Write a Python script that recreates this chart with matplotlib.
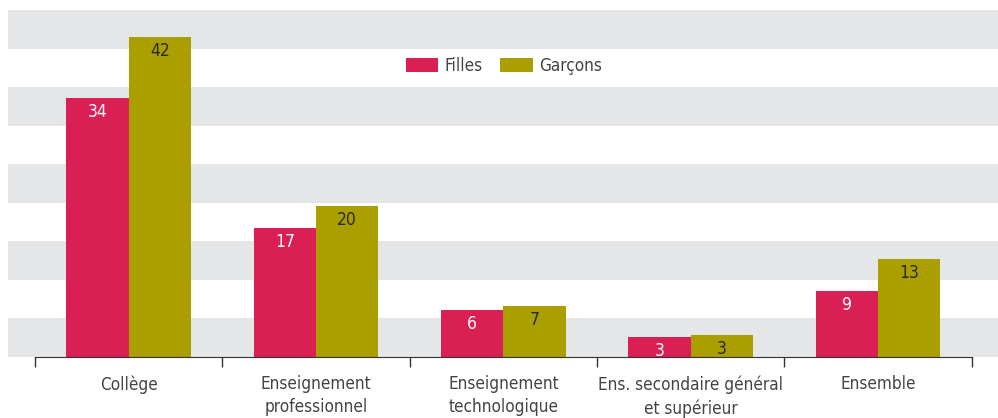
import matplotlib
matplotlib.use("Agg")
import matplotlib.pyplot as plt
import numpy as np

categories = ["Collège", "Enseignement\nprofessionnel", "Enseignement\ntechnologique",
              "Ens. secondaire général\net supérieur", "Ensemble"]
filles = [33.6, 16.7, 6.1, 2.6, 8.6]
garcons = [41.5, 19.6, 6.6, 2.85, 12.7]

red = "#DA1F55"
olive = "#AB9F00"
band = "#E5E6E8"
txt = "#444444"

plt.rcParams['font.family'] = ['DejaVu Sans']
plt.rcParams['font.stretch'] = 'condensed'

fig = plt.figure(figsize=(9.98, 4.18), dpi=100)
ax = fig.add_axes([8 / 998, 1 - 357 / 418, 990 / 998, 347 / 418])

# alternating horizontal bands
for lo in range(0, 45, 10):
    ax.axhspan(lo, lo + 5, color=band, lw=0, zorder=0)

x = np.arange(len(categories))
w = 0.333
b1 = ax.bar(x - w / 2, filles, w, color=red, label="Filles", zorder=2)
b2 = ax.bar(x + w / 2, garcons, w, color=olive, label="Garçons", zorder=2)

for rect, v in zip(b1, filles):
    ax.text(rect.get_x() + rect.get_width() / 2, v - 1.8, f"{v:.0f}", ha="center", va="center",
            color="white", fontsize=12.5, zorder=3)
for rect, v in zip(b2, garcons):
    ax.text(rect.get_x() + rect.get_width() / 2, v - 1.8, f"{v:.0f}", ha="center", va="center",
            color="#2a2a2a", fontsize=12.5, zorder=3)

ax.set_xlim(-0.644, 4.64)
ax.set_ylim(0, 45)
ax.set_yticks([])
ax.set_xticks(x)
ax.set_xticklabels(categories, fontsize=12.3, color=txt, linespacing=1.38)
ax.set_xticks(np.arange(-0.5, 5, 1), minor=True)
ax.tick_params(axis="x", which="major", length=0, pad=13)
ax.tick_params(axis="x", which="minor", length=7, width=1, color="#333333")

for s in ["top", "right", "left"]:
    ax.spines[s].set_visible(False)
ax.spines["bottom"].set_bounds(-0.5, 4.5)
ax.spines["bottom"].set_color("#333333")
ax.spines["bottom"].set_zorder(4)

leg = fig.legend(loc="center", bbox_to_anchor=(504 / 998, 1 - 66 / 418), ncol=2, frameon=False,
                 fontsize=12.3, handlelength=1.9, handleheight=0.9, columnspacing=1.0,
                 handletextpad=0.4)
for t in leg.get_texts():
    t.set_color(txt)

fig.savefig("out.png", dpi=100, facecolor="white")
